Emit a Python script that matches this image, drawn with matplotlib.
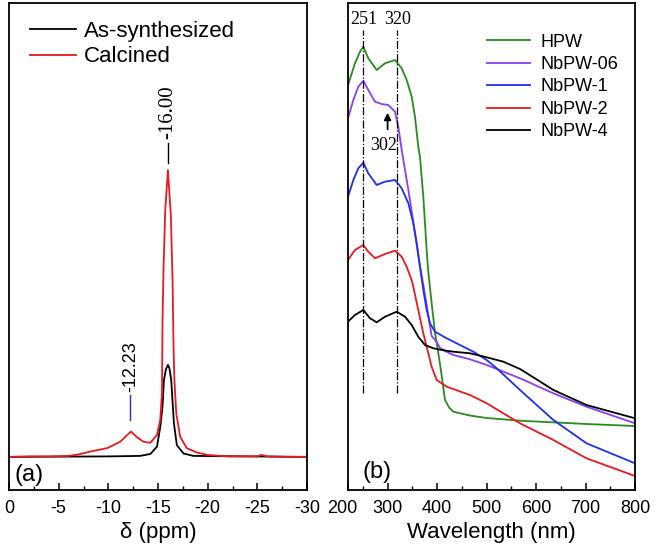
import matplotlib
matplotlib.use("Agg")
import matplotlib.pyplot as plt
from matplotlib.transforms import ScaledTranslation

plt.rcParams['font.family'] = ['Liberation Sans', 'DejaVu Sans']

# ---- (a) 31P NMR, intensity as fraction of panel height
ppm_cal = [0, -2, -4, -6, -7, -8.2, -9.88, -11.2, -11.9, -12.29, -12.9, -13.55, -14.23,
           -14.9, -15.23, -15.4, -15.46, -15.56, -15.73, -16.0, -16.3, -16.47, -16.57,
           -16.65, -16.84, -17.24, -17.9, -18.9, -20, -22, -25, -25.4, -26, -28, -30]
int_cal = [0.068, 0.069, 0.069, 0.070, 0.073, 0.079, 0.086, 0.099, 0.113, 0.120, 0.108,
           0.099, 0.097, 0.113, 0.144, 0.200, 0.356, 0.458, 0.575, 0.657, 0.561, 0.425,
           0.287, 0.226, 0.157, 0.109, 0.086, 0.077, 0.072, 0.069, 0.069, 0.072, 0.069,
           0.068, 0.068]
ppm_syn = [0, -10, -13.2, -14.23, -14.9, -15.23, -15.45, -15.6, -15.8, -16.0, -16.15,
           -16.33, -16.5, -16.6, -16.9, -17.57, -18.57, -30]
int_syn = [0.068, 0.069, 0.070, 0.074, 0.089, 0.130, 0.170, 0.226, 0.248, 0.257, 0.250,
           0.226, 0.170, 0.137, 0.092, 0.075, 0.070, 0.068]

# ---- (b) UV-vis, absorbance read as pixel rows of the panel
wl_hpw = [220, 234.1, 244.2, 251, 261, 278, 294.8, 315, 328.5, 338.6, 348.7, 355.4, 362,
          365.5, 372.2, 379, 382.3, 389, 395.8, 402.5, 408, 416, 425, 432.9, 466, 500.3,
          567.6, 702, 800]
ab_hpw = [85, 63.3, 51.7, 46.7, 58.3, 70, 63.3, 60, 68.3, 80, 96.7, 116.7, 146.7,
          157, 196.7, 250, 272, 303, 333, 353, 371, 400, 408, 411.7, 415.5, 418,
          420.7, 424, 426]
wl_06 = [220, 230.8, 240.8, 251, 261, 274.6, 288.1, 301.5, 315, 321.7, 328.5, 342, 355.4,
         365.5, 372.2, 379, 389, 399.2, 406, 416, 432.9, 466.6, 500.3, 517.1, 567.6, 635,
         702, 800]
ab_06 = [118.3, 100, 86.7, 80.7, 90, 101.7, 104, 105, 111.7, 126.7, 150, 190, 233,
         266.7, 285, 305, 336, 342, 348, 351, 355, 359.3, 365, 368.3, 378.3, 393.3,
         406.7, 423.3]
wl_1 = [220, 230.8, 240.8, 251, 261, 278, 294.8, 315, 328.5, 342, 352, 358.8, 365.5,
        372.2, 379, 385.7, 395.8, 419.4, 446.3, 473.3, 500.3, 520.5, 567.6, 635, 702, 800]
ab_1 = [196.7, 180, 168.3, 162.7, 173.3, 185, 181.7, 180, 188.3, 203.3, 223.3, 243.3,
        266.7, 290, 310, 323.3, 331.7, 338.3, 345, 351.7, 360, 368.3, 390, 420, 443.3,
        463.3]
wl_2 = [220, 234.1, 251, 261, 274.6, 294.8, 315, 328.5, 338.6, 348.7, 352, 362, 372.2,
        382.3, 389, 399.2, 419.4, 466.6, 500.3, 567.6, 635, 702, 800]
ab_2 = [260, 250, 245, 251.7, 258.3, 254, 250.7, 256.7, 266.7, 280, 286.7, 310, 333.3,
        353.3, 366.7, 380, 386.7, 395, 403.3, 423.3, 440, 458.3, 476]
wl_4 = [220, 234.1, 251, 264.5, 278, 294.8, 318.4, 335.2, 348.7, 362, 375.6, 392.4,
        409.3, 432.9, 466.6, 500.3, 534, 567.6, 600, 635, 702, 800]
ab_4 = [321.7, 315, 310, 318.3, 322.3, 316.7, 311.7, 316.7, 325, 336.7, 345, 348.3,
        350, 351.7, 353.3, 357.3, 361.7, 369, 379, 390, 405, 418.3]

def frac(vals):
    # pixel row in the panel -> fraction of panel height
    return [(490 - v) / 487 for v in vals]

fig = plt.figure(figsize=(6.57, 5.51), dpi=100)
ax1 = fig.add_axes([9 / 657, 61 / 551, 298 / 657, 487 / 551])
ax2 = fig.add_axes([348 / 657, 61 / 551, 287 / 657, 487 / 551])

for ax in (ax1, ax2):
    for s in ax.spines.values():
        s.set_linewidth(1.3)
    ax.set_yticks([])
    ax.tick_params(axis='x', which='both', direction='in', top=False, labelsize=13, pad=7)
    ax.tick_params(axis='x', which='major', length=5, width=1.1)
    ax.tick_params(axis='x', which='minor', length=3, width=1.0)
    ax.set_ylim(0, 1)

ax1.plot(ppm_syn, int_syn, color='black', lw=1.3, label='As-synthesized')
ax1.plot(ppm_cal, int_cal, color='#e8191f', lw=1.3, label='Calcined')
ax1.set_xlim(0, -30)
ax1.set_xticks([0, -5, -10, -15, -20, -25, -30])
ax1.set_xticklabels(['0', '-5', '-10', '-15', '-20', '-25', '-30'])
ax1.set_xticks([-2.5, -7.5, -12.5, -17.5, -22.5, -27.5], minor=True)
ax1.set_xlabel('δ (ppm)', fontsize=16, labelpad=4)
ax1.legend(loc='upper left', bbox_to_anchor=(0.017, 0.995), frameon=False, fontsize=16,
           handlelength=2.1, handletextpad=0.35, labelspacing=0.2, borderpad=0.2)
ax1.text(0.02, 0.019, '(a)', transform=ax1.transAxes, fontsize=17)
ax1.plot([-16, -16], [frac([163])[0], frac([143])[0]], color='black', lw=1)
ax1.text(-16, frac([139])[0], '-16.00', rotation=90, ha='center', va='bottom',
         fontsize=15, family='Liberation Serif')
ax1.plot([-12.23, -12.23], [frac([420])[0], frac([395])[0]], color='#1f2fd0', lw=1)
ax1.text(-12.23, frac([392])[0], '-12.23', rotation=90, ha='center', va='bottom', fontsize=13)

ax2.plot(wl_hpw, frac(ab_hpw), color='#2a8a22', lw=1.3, label='HPW')
ax2.plot(wl_06, frac(ab_06), color='#8a3ff0', lw=1.3, label='NbPW-06')
ax2.plot(wl_1, frac(ab_1), color='#1f2ff0', lw=1.3, label='NbPW-1')
ax2.plot(wl_2, frac(ab_2), color='#e8191f', lw=1.3, label='NbPW-2')
ax2.plot(wl_4, frac(ab_4), color='black', lw=1.3, label='NbPW-4')
ax2.set_xlim(220, 800)
ax2.set_xticks([220, 300, 400, 500, 600, 700, 800])
ax2.set_xticklabels(['200', '300', '400', '500', '600', '700', '800'])
ax2.set_xticks([250, 350, 450, 550, 650, 750], minor=True)
first = ax2.get_xticklabels()[0]
first.set_transform(first.get_transform() + ScaledTranslation(-0.06, 0, fig.dpi_scale_trans))
ax2.set_xlabel('Wavelength (nm)', fontsize=16, labelpad=4)
ax2.legend(loc='upper left', bbox_to_anchor=(0.44, 0.963), frameon=False, fontsize=13,
           handlelength=2.4, handletextpad=0.55, labelspacing=0.3, borderpad=0.2)
ax2.text(0.05, 0.024, '(b)', transform=ax2.transAxes, fontsize=17)
for wl in (251, 320):
    ax2.plot([wl, wl], [frac([393])[0], frac([30])[0]], color='black', lw=0.9, ls='-.')
    ax2.text(wl, frac([28])[0], str(wl), ha='center', va='bottom', fontsize=13,
             family='Liberation Serif')
ax2.annotate('', xy=(300, frac([110])[0]), xytext=(300, frac([132])[0]),
             arrowprops=dict(arrowstyle='-|>', color='black', lw=1.3, mutation_scale=10))
ax2.text(292, frac([137])[0], '302', ha='center', va='top', fontsize=13,
         family='Liberation Serif')

fig.savefig('out.png', dpi=100)
